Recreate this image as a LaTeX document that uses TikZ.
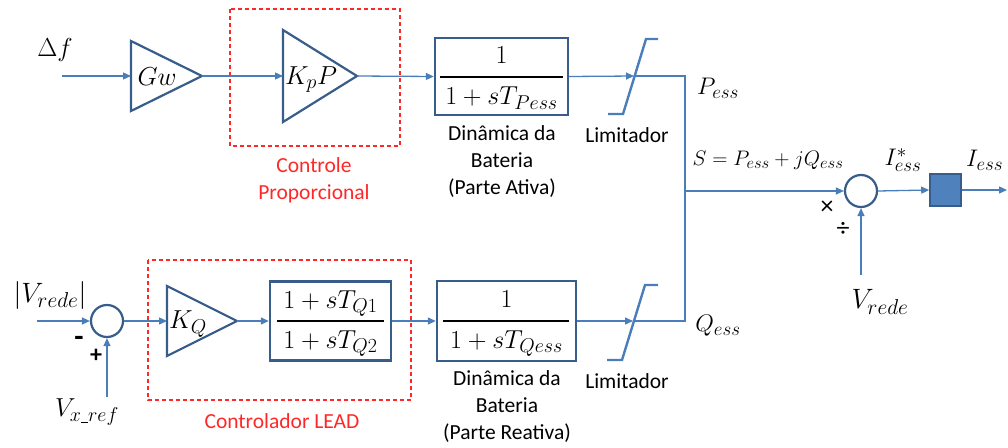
\RequirePackage{fix-cm}
\documentclass[tikz,border=0pt]{standalone}
\usepackage{fontspec}
\newfontfamily\lab{Carlito}
\usetikzlibrary{arrows.meta}
\definecolor{conn}{RGB}{74,126,187}
\definecolor{edge}{RGB}{56,93,138}
\definecolor{fillsq}{RGB}{79,129,189}
\definecolor{redd}{RGB}{255,40,40}
\DeclareMathSizes{21}{21}{16.5}{13}
\DeclareMathSizes{24}{24}{19}{15}
\DeclareMathSizes{26}{26}{20}{16}
\DeclareMathSizes{28}{28}{21.5}{17}
\newcommand\msz{\fontsize{24}{28}\selectfont}
\newcommand\fsz{\fontsize{26}{30}\selectfont}
\newcommand\tsz{\lab\fontsize{21.5}{27}\selectfont}
\newcommand\usc{\rule[-1.2pt]{7pt}{1pt}}
\tikzset{
  wire/.style={draw=conn, line width=1.3},
  arr/.style={wire, -{Triangle[length=8,width=7]}},
  blockbox/.style={draw=edge, line width=2.4, rectangle, inner sep=0},
  fracrule/.style={draw=black, line width=2},
  fnum/.style={inner sep=0, font=\fsz, anchor=base},
  tri/.style={draw=edge, line width=2.2, line join=miter},
  circ/.style={draw=edge, line width=2.2, circle, minimum size=32, inner sep=0},
  lim/.style={draw=conn, line width=2.4},
  reddash/.style={draw=redd, line width=1.2, dash pattern=on 4pt off 3pt},
  mlabel/.style={inner sep=0, font=\msz},
  tlabel/.style={inner sep=0, font=\tsz, align=center},
  rlabel/.style={tlabel, text=redd},
  sign/.style={inner sep=0, font=\lab\fontsize{24}{28}\selectfont\bfseries},
  opsign/.style={inner sep=0, font=\lab\fontsize{26}{30}\selectfont}
}
\begin{document}
\begin{tikzpicture}[x=1pt,y=-1pt]
\useasboundingbox (0,0) rectangle (1008,447);
% ---------- red dashed groups
\draw[reddash] (230,9) rectangle (400,146);
\draw[reddash] (148,260) rectangle (411,400);
\node[rlabel] (ctrlP) at (314,180) {Controle\\Proporcional};
\node[rlabel] (ctrlL) at (282,421) {Controlador LEAD};
% ---------- top row
\node[mlabel, font=\fontsize{26}{30}\selectfont] (df) at (55,50) {$\Delta f$};
\coordinate (dfin) at (62,76);
\coordinate (GwL) at (131,76);
\coordinate (GwR) at (202,76);
\draw[tri] (131,41) -- (GwR) -- (131,111) -- cycle;
\node[mlabel, font=\fontsize{26}{30}\selectfont] (Gw) at (157,77) {$Gw$};
\coordinate (KpL) at (283,76);
\coordinate (KpR) at (357,76);
\draw[tri] (283,30) -- (KpR) -- (283,122) -- cycle;
\node[mlabel, font=\fontsize{26}{30}\selectfont] (Kp) at (311,80) {$K_pP$};
\node[blockbox, minimum width=133, minimum height=77] (Pb) at (501.5,76.5) {};
\draw[fracrule] ([xshift=6pt]Pb.west) -- ([xshift=-6pt]Pb.east);
\node[fnum] (PbN) at ([yshift=13pt]Pb.center) {$1$};
\node[fnum] (PbD) at ([yshift=-28pt]Pb.center) {$1+sT_{Pess}$};
\node[tlabel] (PbT) at (502,162) {Dinâmica da\\Bateria\\(Parte Ativa)};
\coordinate (limP) at (634,76);
\draw[lim] (608,114) -- (623,114) -- (646,39) -- (658,39);
\node[tlabel] (limPT) at (627,135) {Limitador};
\coordinate (cP) at (685,76);
\node[mlabel] (Pess) at (718,88) {$P_{ess}$};
\draw[arr] (dfin) -- (GwL);
\draw[arr] (GwR) -- (KpL);
\draw[arr] (KpR) -- (Pb.west);
\draw[arr] (Pb.east) -- (limP);
% ---------- bottom row
\node[mlabel, font=\fontsize{28}{32}\selectfont] (Vr) at (50,295) {$|V_{rede}|$};
\coordinate (vin) at (37,321);
\node[circ] (sum) at (107,321) {};
\node[sign, font=\lab\fontsize{30}{34}\selectfont\bfseries] (minus) at (79,341) {-};
\node[sign] (plus) at (96,356) {+};
\coordinate (vref) at (107,397);
\node[mlabel, font=\fontsize{26}{30}\selectfont] (Vx) at (87,412) {$V_{x\usc ref}$};
\coordinate (KQL) at (167,321);
\coordinate (KQR) at (237,321);
\draw[tri] (167,286) -- (KQR) -- (167,356) -- cycle;
\node[mlabel, font=\fontsize{26}{30}\selectfont] (KQ) at (188,324) {$K_Q$};
\node[blockbox, minimum width=121, minimum height=79] (lead) at (330.5,321) {};
\draw[fracrule] ([xshift=8pt]lead.west) -- ([xshift=-8pt]lead.east);
\node[fnum] (leadN) at ([yshift=13pt]lead.center) {$1+sT_{Q1}$};
\node[fnum] (leadD) at ([yshift=-27pt]lead.center) {$1+sT_{Q2}$};
\node[blockbox, minimum width=139, minimum height=80] (Qb) at (506.5,321) {};
\draw[fracrule] ([xshift=7pt]Qb.west) -- ([xshift=-8pt]Qb.east);
\node[fnum] (QbN) at ([yshift=14pt]Qb.center) {$1$};
\node[fnum] (QbD) at ([yshift=-27pt]Qb.center) {$1+sT_{Qess}$};
\node[tlabel] (QbT) at (507,407) {Dinâmica da\\Bateria\\(Parte Reativa)};
\coordinate (limQ) at (633,321);
\draw[lim] (607,360) -- (622,360) -- (645,285) -- (658,285);
\node[tlabel] (limQT) at (627,381) {Limitador};
\coordinate (cQ) at (685,321);
\node[mlabel] (Qess) at (718,326) {$Q_{ess}$};
\draw[arr] (vin) -- (sum.west);
\draw[arr] (vref) -- (sum.south);
\draw[arr] (sum.east) -- (KQL);
\draw[arr] (KQR) -- (lead.west);
\draw[arr] (lead.east) -- (Qb.west);
\draw[arr] (Qb.east) -- (limQ);
% ---------- merge and output
\coordinate (jn) at (685,191);
\draw[wire] (limP) -- (cP) -- (cQ) -- (limQ);
\node[mlabel, font=\fontsize{21}{25}\selectfont] (Seq) at (768,160) {$S=P_{ess}+jQ_{ess}$};
\node[circ] (prod) at (861,191) {};
\node[opsign] (times) at (827,208) {×};
\node[opsign] (divs) at (843,229) {÷};
\coordinate (vgrid) at (861,275);
\node[mlabel, font=\fontsize{28}{32}\selectfont] (Vg) at (880,302) {$V_{rede}$};
\node[mlabel] (Istar) at (903,160) {$I^*_{ess}$};
\node[draw=edge, line width=1.6, fill=fillsq, minimum width=31, minimum height=32, inner sep=0] (sq) at (945.5,190) {};
\coordinate (out) at (1007,190);
\node[mlabel, anchor=west] (Iess) at (966,160) {$I_{ess}$};
\draw[arr] (jn) -- (prod.west);
\draw[arr] (vgrid) -- (prod.south);
\draw[arr] (prod.east) -- (sq.west);
\draw[arr] (sq.east) -- (out);
\end{tikzpicture}
\end{document}
